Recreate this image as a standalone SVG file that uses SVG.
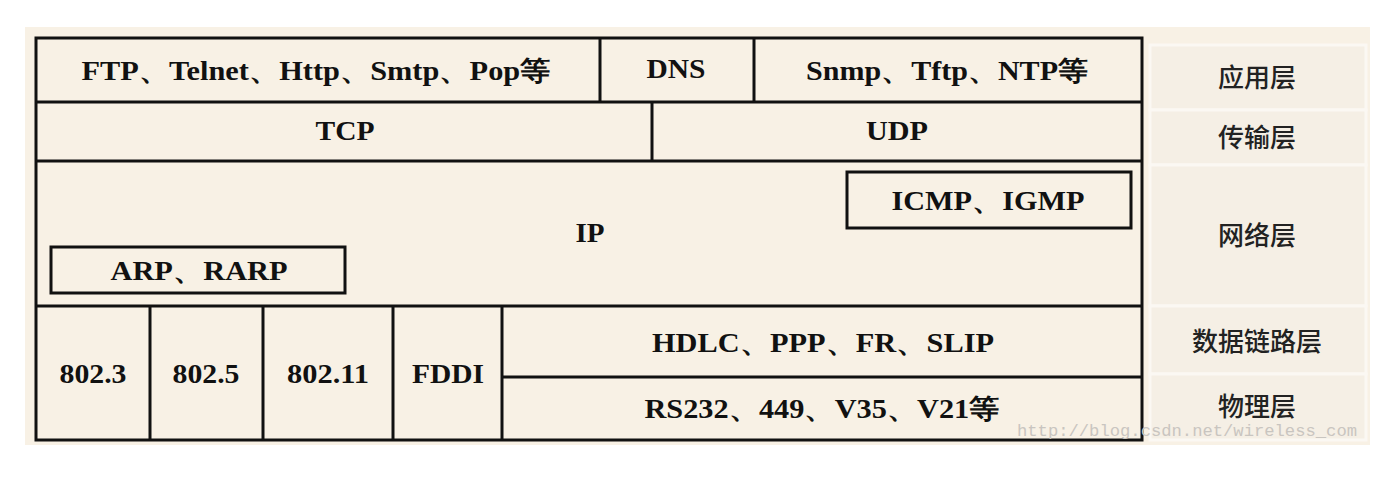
<svg xmlns="http://www.w3.org/2000/svg" width="1400" height="478" viewBox="0 0 1400 478">
<style>
.t{font-family:"Liberation Serif","Times New Roman",serif;font-weight:bold;font-size:27px;fill:#111;text-anchor:middle}
.c{font-family:"Noto Sans CJK SC","Noto Sans",sans-serif;font-weight:500;font-size:26px;fill:#222;text-anchor:middle}
.box{fill:none;stroke:#111;stroke-width:3}
.ln{stroke:#111;stroke-width:3;fill:none}
.cell{fill:#f5efe5;stroke:#fbf8f3;stroke-width:3}
.wm{font-family:"Liberation Mono","Courier New",monospace;font-size:16px;fill:#c9c5c0}
</style>
<rect x="0" y="0" width="1400" height="478" fill="#ffffff"/>
<rect x="25" y="27" width="1345" height="418" fill="#f8f1e5"/>
<g id="layer-labels">
<rect class="cell" x="1150" y="45" width="216" height="65"/>
<rect class="cell" x="1150" y="110" width="216" height="55"/>
<rect class="cell" x="1150" y="165" width="216" height="141"/>
<rect class="cell" x="1150" y="306" width="216" height="68"/>
<rect class="cell" x="1150" y="374" width="216" height="66"/>
<text class="c" x="1257" y="87">应用层</text>
<text class="c" x="1257" y="147">传输层</text>
<text class="c" x="1257" y="245">网络层</text>
<text class="c" x="1257" y="351">数据链路层</text>
<text class="c" x="1257" y="416">物理层</text>
</g>
<g id="connectors">
<rect class="box" x="36" y="38" width="1106" height="402"/>
<line class="ln" x1="36" y1="102" x2="1142" y2="102"/>
<line class="ln" x1="600" y1="38" x2="600" y2="102"/>
<line class="ln" x1="754" y1="38" x2="754" y2="102"/>
<line class="ln" x1="652" y1="102" x2="652" y2="161"/>
<line class="ln" x1="36" y1="161" x2="1142" y2="161" stroke-width="4"/>
<line class="ln" x1="36" y1="306" x2="1142" y2="306"/>
<line class="ln" x1="150" y1="306" x2="150" y2="440"/>
<line class="ln" x1="263" y1="306" x2="263" y2="440"/>
<line class="ln" x1="393" y1="306" x2="393" y2="440"/>
<line class="ln" x1="502" y1="306" x2="502" y2="440"/>
<line class="ln" x1="502" y1="377" x2="1142" y2="377"/>
</g>
<g id="app">
<text class="t" x="316" y="80" textLength="469" lengthAdjust="spacingAndGlyphs">FTP、Telnet、Http、Smtp、Pop等</text>
<text class="t" x="676" y="78" textLength="59" lengthAdjust="spacingAndGlyphs">DNS</text>
<text class="t" x="947" y="80" textLength="282" lengthAdjust="spacingAndGlyphs">Snmp、Tftp、NTP等</text>
</g>
<g id="transport">
<text class="t" x="345" y="140" textLength="59" lengthAdjust="spacingAndGlyphs">TCP</text>
<text class="t" x="897" y="140" textLength="62" lengthAdjust="spacingAndGlyphs">UDP</text>
</g>
<g id="network">
<text class="t" x="590" y="242" textLength="29" lengthAdjust="spacingAndGlyphs">IP</text>
<rect class="box" x="847" y="172" width="284" height="56"/>
<text class="t" x="988" y="210" textLength="193" lengthAdjust="spacingAndGlyphs">ICMP、IGMP</text>
<rect class="box" x="51" y="247" width="294" height="46"/>
<text class="t" x="199" y="280" textLength="177" lengthAdjust="spacingAndGlyphs">ARP、RARP</text>
</g>
<g id="link">
<text class="t" x="93" y="383" textLength="67" lengthAdjust="spacingAndGlyphs">802.3</text>
<text class="t" x="206" y="383" textLength="67" lengthAdjust="spacingAndGlyphs">802.5</text>
<text class="t" x="328" y="383" textLength="82" lengthAdjust="spacingAndGlyphs">802.11</text>
<text class="t" x="448" y="383" textLength="72" lengthAdjust="spacingAndGlyphs">FDDI</text>
<text class="t" x="823" y="352" textLength="342" lengthAdjust="spacingAndGlyphs">HDLC、PPP、FR、SLIP</text>
<text class="t" x="822" y="418" textLength="355" lengthAdjust="spacingAndGlyphs">RS232、449、V35、V21等</text>
</g>
<text class="wm" x="1017" y="436" textLength="340" lengthAdjust="spacingAndGlyphs">http://blog.csdn.net/wireless_com</text>
</svg>
